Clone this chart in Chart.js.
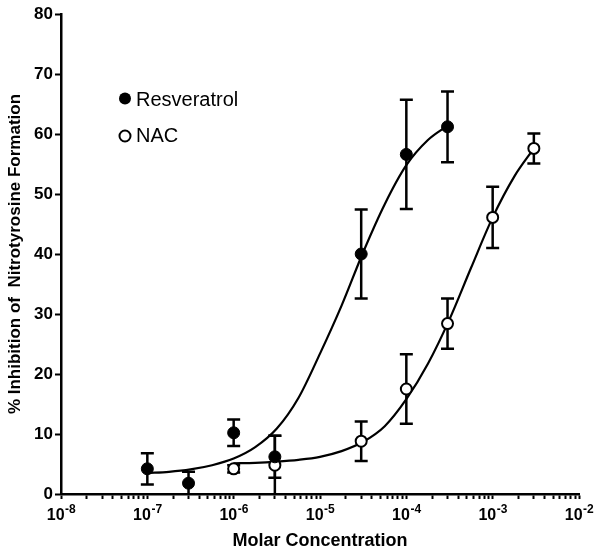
<!DOCTYPE html>
<html>
<head>
<meta charset="utf-8">
<script src="https://cdn.jsdelivr.net/npm/chart.js@4.4.0/dist/chart.umd.min.js"></script>
<style>
  html, body { margin: 0; padding: 0; background: #fff; }
</style>
</head>
<body>
<canvas id="chart" width="600" height="554"></canvas>
<script>
  // mean +/- SEM
  const resvConc = [1e-7, 3e-7, 1e-6, 3e-6, 3e-5, 1e-4, 3e-4];
  const resvMean = [4.2, 1.8, 10.2, 6.2, 40.0, 56.6, 61.2];
  const resvSem = [2.6, 1.9, 2.2, 3.5, 7.4, 9.1, 5.9];

  const nacConc = [1e-6, 3e-6, 3e-5, 1e-4, 3e-4, 1e-3, 3e-3];
  const nacMean = [4.2, 4.8, 8.8, 17.5, 28.4, 46.1, 57.6];
  const nacSem = [0.6, 4.9, 3.3, 5.8, 4.2, 5.1, 2.5];

  // fitted dose-response curves (quarter-decade steps)
  const resvFitConc = [1e-7, 1.778e-7, 3.162e-7, 5.623e-7, 1e-6, 1.778e-6, 3.162e-6, 5.623e-6,
    1e-5, 1.778e-5, 3.162e-5, 5.623e-5, 1e-4, 1.778e-4, 3e-4];
  const resvFitVal = [3.5, 3.7, 4.1, 4.8, 5.9, 7.8, 10.9, 16.0, 23.4, 31.4, 40.3, 48.3, 54.8, 59.0, 61.4];

  const nacFitConc = [1e-6, 1.778e-6, 3.162e-6, 5.623e-6, 1e-5, 1.778e-5, 3.162e-5, 5.623e-5,
    1e-4, 1.778e-4, 3.162e-4, 5.623e-4, 1e-3, 1.778e-3, 3e-3];
  const nacFitVal = [5.1, 5.2, 5.4, 5.7, 6.2, 7.15, 8.7, 11.3, 15.8, 21.7, 29.1, 37.7, 46.1, 52.9, 57.6];

  const xDecades = [-8, -7, -6, -5, -4, -3, -2];
  const xTickExp = ['-8', '-7', '-6', '-5', '-4', '-3', '-2'];
  const seriesNames = ['Resveratrol', 'NAC'];

  const FONT = "'Liberation Sans', Arial, sans-serif";

  function pts(xs, ys) {
    return xs.map((x, i) => ({ x: x, y: ys[i] }));
  }

  const errorBars = {
    id: 'errorBars',
    beforeDatasetsDraw(chart) {
      const { ctx, chartArea, scales } = chart;
      const sets = [[resvConc, resvMean, resvSem], [nacConc, nacMean, nacSem]];
      ctx.save();
      ctx.beginPath();
      ctx.rect(chartArea.left, chartArea.top - 10, chartArea.right - chartArea.left, chartArea.bottom - chartArea.top + 10);
      ctx.clip();
      ctx.strokeStyle = '#000';
      ctx.lineWidth = 2.5;
      sets.forEach(([xs, ys, es]) => {
        xs.forEach((c, i) => {
          const px = scales.x.getPixelForValue(c);
          const top = scales.y.getPixelForValue(ys[i] + es[i]);
          const bot = scales.y.getPixelForValue(ys[i] - es[i]);
          ctx.beginPath();
          ctx.moveTo(px, top); ctx.lineTo(px, bot);
          ctx.moveTo(px - 6.5, top); ctx.lineTo(px + 6.5, top);
          ctx.moveTo(px - 6.5, bot); ctx.lineTo(px + 6.5, bot);
          ctx.stroke();
        });
      });
      ctx.restore();
    }
  };

  const extras = {
    id: 'extras',
    afterDraw(chart) {
      const { ctx, scales } = chart;
      const xs = scales.x;
      ctx.save();
      ctx.fillStyle = '#000';
      ctx.textAlign = 'left';
      ctx.textBaseline = 'alphabetic';
      // x tick labels with superscript exponents
      xDecades.forEach((e, i) => {
        const px = xs.getPixelForValue(Math.pow(10, e));
        ctx.font = 'bold 16px ' + FONT;
        const wb = ctx.measureText('10').width;
        ctx.font = 'bold 12px ' + FONT;
        const we = ctx.measureText(xTickExp[i]).width;
        const x0 = px - (wb + we) / 2;
        ctx.font = 'bold 16px ' + FONT;
        ctx.fillText('10', x0, xs.top + 26);
        ctx.font = 'bold 12px ' + FONT;
        ctx.fillText(xTickExp[i], x0 + wb + 0.5, xs.top + 19);
      });

      // legend
      ctx.lineWidth = 2;
      ctx.strokeStyle = '#000';
      ctx.beginPath();
      ctx.arc(125, 98.5, 6, 0, Math.PI * 2);
      ctx.fill();
      ctx.beginPath();
      ctx.arc(125, 136, 5.5, 0, Math.PI * 2);
      ctx.fillStyle = '#fff';
      ctx.fill();
      ctx.stroke();
      ctx.fillStyle = '#000';
      ctx.font = '20px ' + FONT;
      ctx.textBaseline = 'middle';
      ctx.fillText(seriesNames[0], 136, 100);
      ctx.fillText(seriesNames[1], 136, 136);
      ctx.restore();
    }
  };

  new Chart(document.getElementById('chart'), {
    type: 'scatter',
    data: {
      datasets: [
        {
          label: seriesNames[0], data: pts(resvConc, resvMean),
          pointRadius: 6, pointBackgroundColor: '#000', pointBorderColor: '#000', pointBorderWidth: 1,
        },
        {
          label: seriesNames[1], data: pts(nacConc, nacMean),
          pointRadius: 5.5, pointBackgroundColor: '#fff', pointBorderColor: '#000', pointBorderWidth: 2,
        },
        {
          label: 'fit1', data: pts(resvFitConc, resvFitVal), showLine: true,
          pointRadius: 0, borderColor: '#000', borderWidth: 2.2, cubicInterpolationMode: 'monotone',
        },
        {
          label: 'fit2', data: pts(nacFitConc, nacFitVal), showLine: true,
          pointRadius: 0, borderColor: '#000', borderWidth: 2.2, cubicInterpolationMode: 'monotone',
        },
      ],
    },
    options: {
      responsive: false,
      animation: false,
      events: [],
      layout: { padding: { top: 14, right: 21, bottom: 0, left: 0 } },
      plugins: { legend: { display: false }, tooltip: { enabled: false } },
      scales: {
        x: {
          type: 'logarithmic', min: 1e-8, max: 1e-2,
          afterBuildTicks: (scale) => {
            const ticks = [];
            xDecades.forEach((e, i) => {
              for (let m = 1; m <= 9; m++) {
                if (i === xDecades.length - 1 && m > 1) break;
                ticks.push({ value: m * Math.pow(10, e), major: m === 1 });
              }
            });
            scale.ticks = ticks;
          },
          ticks: { display: false, autoSkip: false },
          grid: { drawOnChartArea: false, drawTicks: true, tickLength: 5, tickWidth: 2, color: '#000' },
          border: { color: '#000', width: 2.5 },
          title: {
            display: true, text: 'Molar Concentration', color: '#000',
            font: { family: FONT, size: 18, weight: 'bold', lineHeight: 1.2 },
            padding: { top: 0, bottom: 2 },
          },
          afterFit: (s) => { s.height = 60; },
        },
        y: {
          type: 'linear', min: 0, max: 80,
          ticks: { stepSize: 10, color: '#000', padding: 2, font: { family: FONT, size: 17, weight: 'bold' } },
          grid: { drawOnChartArea: false, drawTicks: true, tickLength: 6, tickWidth: 2, color: '#000' },
          border: { color: '#000', width: 2.5 },
          title: {
            display: true, text: '% Inhibition of  Nitrotyrosine Formation', color: '#000',
            font: { family: FONT, size: 17, weight: 'bold', lineHeight: 1.2 },
            padding: { top: 5, bottom: 0 },
          },
          afterFit: (s) => { s.width = 61; },
        },
      },
    },
    plugins: [errorBars, extras],
  });
</script>
</body>
</html>
